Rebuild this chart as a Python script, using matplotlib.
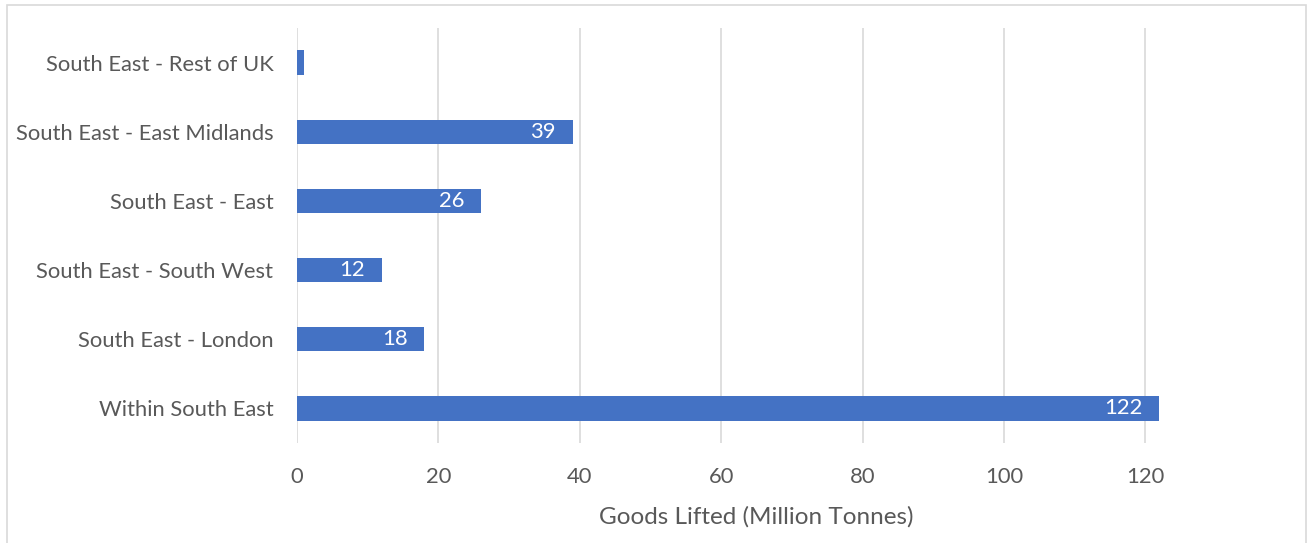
import matplotlib
matplotlib.use("Agg")
import matplotlib.pyplot as plt
from matplotlib.patches import Rectangle

categories = ["Within South East", "South East - London", "South East - South West",
              "South East - East", "South East - East Midlands", "South East - Rest of UK"]
values = [122, 18, 12, 26, 39, 1]
show_label = [True, True, True, True, True, False]
xticks = [0, 20, 40, 60, 80, 100, 120]
xlabel = "Goods Lifted (Million Tonnes)"

plt.rcParams['font.family'] = ['Lato', 'DejaVu Sans']
W, H = 1308, 543
fig = plt.figure(figsize=(W/100, H/100), dpi=100)
fig.patch.set_facecolor('white')

# outer frame
fig.patches.append(Rectangle((7/W, -0.05), (1306-7)/W, 1.05 - 5/H, transform=fig.transFigure,
                             fill=False, edgecolor='#d9d9d9', linewidth=1.2))

ax = fig.add_axes([297/W, 1-443/H, (1216-297)/W, (443-28)/H])
bar_color = '#4472C4'
y = list(range(len(categories)))
bars = ax.barh(y, values, height=0.35, color=bar_color, zorder=3)
ax.set_xlim(0, 130)
ax.set_ylim(-0.5, len(categories) - 0.5)
ax.set_xticks(xticks)
ax.set_xticklabels([str(t) for t in xticks])
ax.set_yticks(y)
ax.set_yticklabels(categories)
ax.grid(axis='x', color='#d9d9d9', linewidth=1.2, zorder=0)
for s in ax.spines.values():
    s.set_visible(False)
ax.tick_params(axis='both', length=0, labelsize=15.8, colors='#595959')
ax.tick_params(axis='x', pad=17)
ax.tick_params(axis='y', pad=17)
ax.set_xlabel(xlabel, fontsize=17.5, color='#595959', labelpad=14)

for yi, v, sh in zip(y, values, show_label):
    if sh:
        ax.annotate(str(v), (v, yi), xytext=(-12, 0), textcoords='offset points',
                    ha='right', va='center', color='white', fontsize=15.8, zorder=4)

fig.savefig("out.png", dpi=100)
